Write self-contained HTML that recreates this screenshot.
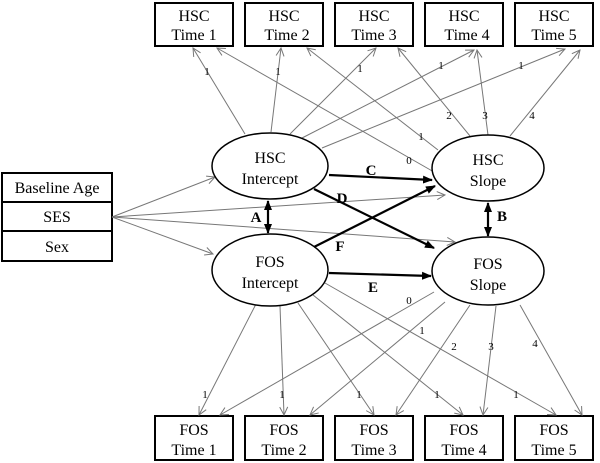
<!DOCTYPE html>
<html><head><meta charset="utf-8"><style>
body{margin:0;background:#fff}
svg{display:block}
text{font-family:"Liberation Serif",serif;fill:#000}
.t{font-size:16px;text-anchor:middle}
.s{font-size:11px;text-anchor:middle}
.b{font-size:15px;font-weight:bold;text-anchor:middle}
.g{stroke:#777;stroke-width:1;fill:none}
.k{stroke:#000;stroke-width:2.2;fill:none}
</style></head><body>
<svg width="600" height="463" viewBox="0 0 600 463">
<defs>
<marker id="ga" markerWidth="10" markerHeight="10" refX="9" refY="5" orient="auto" markerUnits="userSpaceOnUse"><path d="M1,1 L9,5 L1,9" fill="none" stroke="#777" stroke-width="1"/></marker>
<marker id="ka" markerWidth="10" markerHeight="10" refX="9" refY="5" orient="auto" markerUnits="userSpaceOnUse"><path d="M0,1 L10,5 L0,9 z" fill="#000"/></marker>
<marker id="kb" markerWidth="10" markerHeight="10" refX="1" refY="5" orient="auto" markerUnits="userSpaceOnUse"><path d="M10,1 L0,5 L10,9 z" fill="#000"/></marker>
</defs>
<g fill="#fff" stroke="#000" stroke-width="2">
<rect x="155" y="3" width="78" height="43"/><rect x="245" y="3" width="78" height="43"/><rect x="335" y="3" width="78" height="43"/><rect x="425" y="3" width="78" height="43"/><rect x="515" y="3" width="78" height="43"/>
<rect x="155" y="416" width="78" height="44"/><rect x="245" y="416" width="78" height="44"/><rect x="335" y="416" width="78" height="44"/><rect x="425" y="416" width="78" height="44"/><rect x="515" y="416" width="78" height="44"/>
<rect x="2" y="173" width="110" height="29"/><rect x="2" y="202" width="110" height="29"/><rect x="2" y="231" width="110" height="30"/>
</g>
<g class="t">
<text x="194" y="21">HSC</text><text x="194" y="40">Time 1</text>
<text x="284" y="21">HSC</text><text x="287" y="40">Time 2</text>
<text x="374" y="21">HSC</text><text x="374" y="40">Time 3</text>
<text x="464" y="21">HSC</text><text x="467" y="40">Time 4</text>
<text x="554" y="21">HSC</text><text x="554" y="40">Time 5</text>
<text x="194" y="435">FOS</text><text x="194" y="455">Time 1</text>
<text x="284" y="435">FOS</text><text x="284" y="455">Time 2</text>
<text x="374" y="435">FOS</text><text x="374" y="455">Time 3</text>
<text x="464" y="435">FOS</text><text x="464" y="455">Time 4</text>
<text x="554" y="435">FOS</text><text x="554" y="455">Time 5</text>
<text x="57" y="193">Baseline Age</text><text x="57" y="222">SES</text><text x="57" y="252">Sex</text>
</g>
<g class="g" marker-end="url(#ga)">
<line x1="112" y1="217" x2="215" y2="177"/><line x1="112" y1="217" x2="445" y2="195"/>
<line x1="112" y1="217" x2="455" y2="242"/><line x1="112" y1="217" x2="213" y2="254"/>
<line x1="245" y1="134" x2="193" y2="48"/><line x1="271" y1="132" x2="281" y2="48"/>
<line x1="290" y1="134" x2="376" y2="48"/><line x1="302" y1="138" x2="474" y2="50"/>
<line x1="322" y1="148" x2="565" y2="49"/>
<line x1="434" y1="172" x2="217" y2="48"/><line x1="438" y1="150" x2="307" y2="48"/>
<line x1="470" y1="136" x2="398" y2="48"/><line x1="488" y1="135" x2="477" y2="50"/>
<line x1="510" y1="136" x2="580" y2="50"/>
<line x1="256" y1="304" x2="199" y2="415"/><line x1="280" y1="306" x2="284" y2="415"/>
<line x1="298" y1="303" x2="374" y2="415"/><line x1="313" y1="295" x2="463" y2="415"/>
<line x1="325" y1="283" x2="556" y2="415"/>
<line x1="434" y1="292" x2="220" y2="415"/><line x1="445" y1="302" x2="310" y2="415"/>
<line x1="470" y1="305" x2="396" y2="415"/><line x1="496" y1="306" x2="483" y2="415"/>
<line x1="520" y1="305" x2="582" y2="415"/>
</g>
<g fill="#fff" stroke="#000" stroke-width="1.5">
<ellipse cx="270" cy="166" rx="58" ry="33"/><ellipse cx="488" cy="168" rx="56" ry="33"/>
<ellipse cx="270" cy="270" rx="58" ry="36"/><ellipse cx="488" cy="271" rx="56" ry="34"/>
</g>
<g class="t">
<text x="270" y="163">HSC</text><text x="270" y="184">Intercept</text>
<text x="488" y="165">HSC</text><text x="488" y="186">Slope</text>
<text x="270" y="267">FOS</text><text x="270" y="288">Intercept</text>
<text x="488" y="269">FOS</text><text x="488" y="290">Slope</text>
</g>
<g class="k" marker-end="url(#ka)">
<line x1="329" y1="175" x2="432" y2="180"/>
<line x1="314" y1="189" x2="434" y2="248"/>
<line x1="314" y1="247" x2="435" y2="186"/>
<line x1="329" y1="273" x2="431" y2="276"/>
<line x1="268" y1="201" x2="268" y2="233" marker-start="url(#kb)"/>
<line x1="488" y1="203" x2="488" y2="236" marker-start="url(#kb)"/>
</g>
<g class="b">
<text x="371" y="175">C</text><text x="342" y="203">D</text><text x="340" y="251">F</text>
<text x="373" y="292">E</text><text x="256" y="222">A</text><text x="502" y="221">B</text>
</g>
<g class="s">
<text x="207" y="75">1</text><text x="278" y="75">1</text><text x="360" y="72">1</text>
<text x="441" y="69">1</text><text x="521" y="69">1</text>
<text x="409" y="164">0</text><text x="421" y="140">1</text><text x="449" y="119">2</text>
<text x="485" y="119">3</text><text x="532" y="119">4</text>
<text x="205" y="398">1</text><text x="282" y="398">1</text><text x="359" y="398">1</text>
<text x="437" y="398">1</text><text x="516" y="398">1</text>
<text x="409" y="304">0</text><text x="422" y="334">1</text><text x="454" y="350">2</text>
<text x="491" y="350">3</text><text x="535" y="347">4</text>
</g>
</svg>
</body></html>
